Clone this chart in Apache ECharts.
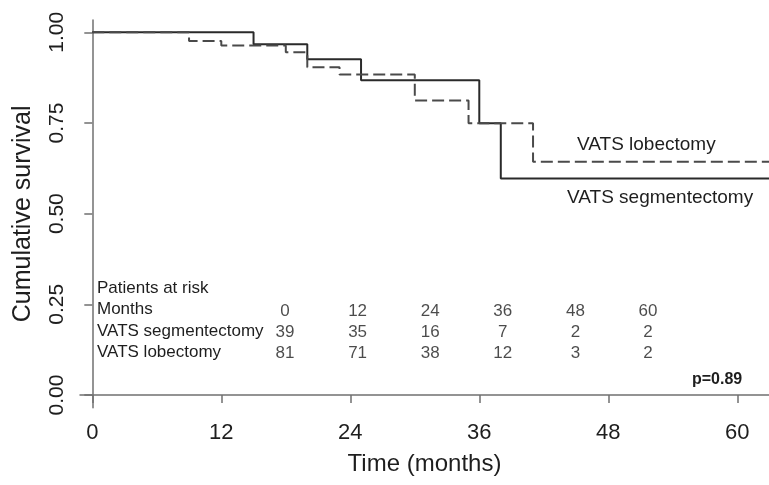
<!DOCTYPE html>
<html>
<head>
<meta charset="utf-8">
<script src="https://cdn.jsdelivr.net/npm/echarts@6/dist/echarts.min.js"></script>
<style>
  html, body { margin: 0; padding: 0; background: #fff; }
  #chart { width: 769px; height: 485px; }
</style>
</head>
<body>
<div id="chart"></div>
<script>
// Kaplan-Meier steps (time in months, survival after the drop)
const segTimes = [0, 15, 20, 25, 36, 38, 63]
const segSurv = [1, 0.967, 0.926, 0.868, 0.749, 0.597, 0.597]
const lobTimes = [0, 9, 12, 18, 20, 23, 30, 35, 41, 63]
const lobSurv = [1, 0.976, 0.964, 0.945, 0.904, 0.884, 0.812, 0.749, 0.643, 0.643]

// patients at risk table
const riskMonths = [0, 12, 24, 36, 48, 60]
const segRisk = [39, 35, 16, 7, 2, 2]
const lobRisk = [81, 71, 38, 12, 3, 2]
const riskRows = ['Months', 'VATS segmentectomy', 'VATS lobectomy']

const xTicks = [0, 12, 24, 36, 48, 60]
const yTicks = [0, 0.25, 0.5, 0.75, 1]

const font = "'Liberation Sans', Arial, sans-serif"
const textColor = '#1e1e1e'

const chart = echarts.init(document.getElementById('chart'))

function pairs(xs, ys) {
  return xs.map((x, i) => [x, ys[i]])
}

function riskData() {
  const out = []
  const rows = [riskMonths, segRisk, lobRisk]
  rows.forEach((row, r) => {
    row.forEach((v, i) => {
      out.push({ value: [riskMonths[i], r], label: { formatter: String(v) } })
    })
  })
  return out
}

const axisLine = { show: true, lineStyle: { color: '#707070', width: 1.5 } }
const axisTick = { show: true, inside: false, length: 8, lineStyle: { color: '#707070', width: 1.5 } }

const option = {
  backgroundColor: '#fff',
  animation: false,
  grid: [
    { left: 80, top: 20, right: 0, bottom: 77.3, containLabel: false },
    // invisible grid used only to place the risk table numbers
    { left: 285, top: 311, width: 363, height: 42, containLabel: false }
  ],
  xAxis: [
    {
      type: 'value',
      gridIndex: 0,
      min: -1.144,
      max: 62.95,
      axisLine: axisLine,
      axisTick: Object.assign({}, axisTick, { customValues: xTicks }),
      axisLabel: {
        customValues: xTicks,
        margin: 14,
        color: textColor,
        fontFamily: font,
        fontSize: 22
      },
      splitLine: { show: false },
      name: 'Time (months)',
      nameLocation: 'middle',
      nameGap: 45,
      nameTextStyle: { color: textColor, fontFamily: font, fontSize: 24 }
    },
    {
      type: 'value',
      gridIndex: 1,
      min: 0,
      max: 60,
      show: false
    }
  ],
  yAxis: [
    {
      type: 'value',
      gridIndex: 0,
      min: -0.035,
      max: 1.034,
      axisLine: axisLine,
      axisTick: Object.assign({}, axisTick, { customValues: yTicks }),
      axisLabel: {
        customValues: yTicks,
        rotate: 90,
        margin: 12,
        color: textColor,
        fontFamily: font,
        fontSize: 21,
        formatter: v => v.toFixed(2)
      },
      splitLine: { show: false },
      name: 'Cumulative survival',
      nameLocation: 'middle',
      nameGap: 44,
      nameTextStyle: { color: textColor, fontFamily: font, fontSize: 25 }
    },
    {
      type: 'value',
      gridIndex: 1,
      min: 0,
      max: 2,
      inverse: true,
      show: false
    }
  ],
  series: [
    {
      name: 'VATS segmentectomy',
      type: 'line',
      step: 'end',
      symbol: 'none',
      clip: true,
      data: pairs(segTimes, segSurv),
      lineStyle: { color: '#2a2a2a', width: 2, type: 'solid' }
    },
    {
      name: 'VATS lobectomy',
      type: 'line',
      step: 'end',
      symbol: 'none',
      clip: true,
      data: pairs(lobTimes, lobSurv),
      lineStyle: { color: '#4a4a4a', width: 2, type: [12, 5] }
    },
    {
      name: 'at risk',
      type: 'scatter',
      xAxisIndex: 1,
      yAxisIndex: 1,
      symbolSize: 0,
      silent: true,
      data: riskData(),
      label: {
        show: true,
        position: 'inside',
        color: textColor,
        fontFamily: font,
        fontSize: 17
      }
    }
  ],
  graphic: [
    { type: 'text', left: 97, top: 280, style: { text: 'Patients at risk', font: '17px ' + font, fill: textColor } }
  ].concat(riskRows.map((t, i) => ({
    type: 'text', left: 97, top: 301 + i * 21.5,
    style: { text: t, font: '17px ' + font, fill: textColor }
  }))).concat([
    { type: 'text', left: 577, top: 135, style: { text: 'VATS lobectomy', font: '19px ' + font, fill: textColor } },
    { type: 'text', left: 567, top: 188, style: { text: 'VATS segmentectomy', font: '19px ' + font, fill: textColor } },
    { type: 'text', left: 692, top: 372, style: { text: 'p=0.89', font: 'bold 16px ' + font, fill: textColor } }
  ])
}

chart.setOption(option)
window.addEventListener('resize', () => {
  chart.resize()
})
</script>
</body>
</html>
